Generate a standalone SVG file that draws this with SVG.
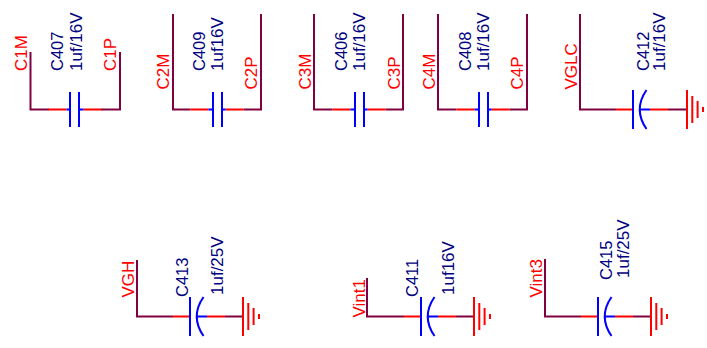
<svg xmlns="http://www.w3.org/2000/svg" width="707" height="348" viewBox="0 0 707 348">
<style>
text{font-family:"Liberation Sans",Arial,sans-serif;font-size:17px}
.n{fill:#f00}.v{fill:#000080}.c{fill:#000080;font-size:16.500px}
.w{fill:none;stroke:#800040;stroke-width:2}
.r{fill:none;stroke:#f00;stroke-width:2}
.b{fill:none;stroke:#00f;stroke-width:2}
</style>
<defs>
<g id="np"><path class="r" d="M-27 0H-9M8 0H26"/><path class="b" d="M-9 0H-4.500M4.500 0H8M-4.500 -17.500V17.500M4.500 -17.500V17.500"/></g>
<g id="pol"><path class="r" d="M-17 0H0M17 0H35"/><path class="b" d="M7 0H17M0 -19.500V19.500M13.500 -19.500Q0 0 13.500 19.500"/></g>
<g id="gnd"><path class="r" d="M0 -19.500V19.500M5.300 -13.500V13.500M10.600 -8.500V8.500M16 -2.500V2.500"/></g>
</defs>
<g id="connectors">
<path class="w" d="M30.500 52V109.500H49M101 109.500H120V52"/>
<path class="w" d="M173 14V109.500H190.500M243.500 109.500H261V14"/>
<path class="w" d="M314 14V109.500H332.500M385.500 109.500H403V14"/>
<path class="w" d="M438 14V109.500H456.500M509.500 109.500H527V14"/>
<path class="w" d="M580 14V109.500H616M668 109.500H687"/>
<path class="w" d="M137 260V316.500H173M225 316.500H243"/>
<path class="w" d="M367 278V316.500H404M456 316.500H474"/>
<path class="w" d="M545 259V316.500H581M633 316.500H651"/>
</g>
<g id="C407"><use href="#np" transform="translate(74.500 109.500) scale(-1 1)"/><text class="c" transform="translate(62.500 71) rotate(-90)">C407</text><text class="v" transform="translate(81.500 71) rotate(-90)">1uf/16V</text></g>
<g id="C409"><use href="#np" x="217.500" y="109.500"/><text class="c" transform="translate(205 71) rotate(-90)">C409</text><text class="v" transform="translate(222.500 71) rotate(-90)">1uf16V</text></g>
<g id="C406"><use href="#np" x="359.500" y="109.500"/><text class="c" transform="translate(346.500 71) rotate(-90)">C406</text><text class="v" transform="translate(365 71) rotate(-90)">1uf/16V</text></g>
<g id="C408"><use href="#np" x="483.500" y="109.500"/><text class="c" transform="translate(471 71) rotate(-90)">C408</text><text class="v" transform="translate(489 71) rotate(-90)">1uf/16V</text></g>
<g id="C412"><use href="#pol" x="633" y="109.500"/><text class="c" transform="translate(649 71) rotate(-90)">C412</text><text class="v" transform="translate(665 71) rotate(-90)">1uf/16V</text><use href="#gnd" x="687" y="109.500"/></g>
<g id="C413"><use href="#pol" x="190" y="316.500"/><text class="c" transform="translate(188 297) rotate(-90)">C413</text><text class="v" transform="translate(223 295) rotate(-90)">1uf/25V</text><use href="#gnd" x="243" y="316.500"/></g>
<g id="C411"><use href="#pol" x="421" y="316.500"/><text class="c" transform="translate(418 297) rotate(-90)">C411</text><text class="v" transform="translate(454 295) rotate(-90)">1uf16V</text><use href="#gnd" x="474" y="316.500"/></g>
<g id="C415"><use href="#pol" x="598" y="316.500"/><text class="c" transform="translate(612 280) rotate(-90)">C415</text><text class="v" transform="translate(629 278) rotate(-90)">1uf/25V</text><use href="#gnd" x="651" y="316.500"/></g>
<g id="C1M"><text class="n" transform="translate(26.500 71) rotate(-90)">C1M</text></g>
<g id="C1P"><text class="n" transform="translate(115.500 71) rotate(-90)">C1P</text></g>
<g id="C2M"><text class="n" transform="translate(169 89.500) rotate(-90)">C2M</text></g>
<g id="C2P"><text class="n" transform="translate(257 89.500) rotate(-90)">C2P</text></g>
<g id="C3M"><text class="n" transform="translate(310.500 89.500) rotate(-90)">C3M</text></g>
<g id="C3P"><text class="n" transform="translate(399.500 89.500) rotate(-90)">C3P</text></g>
<g id="C4M"><text class="n" transform="translate(435 89.500) rotate(-90)">C4M</text></g>
<g id="C4P"><text class="n" transform="translate(523 89.500) rotate(-90)">C4P</text></g>
<g id="VGLC"><text class="n" transform="translate(577 89.500) rotate(-90)">VGLC</text></g>
<g id="VGH"><text class="n" transform="translate(134 297.500) rotate(-90)">VGH</text></g>
<g id="Vint1"><text class="n" transform="translate(365 317.500) rotate(-90)">Vint1</text></g>
<g id="Vint3"><text class="n" transform="translate(542 297.500) rotate(-90)">Vint3</text></g>
</svg>
